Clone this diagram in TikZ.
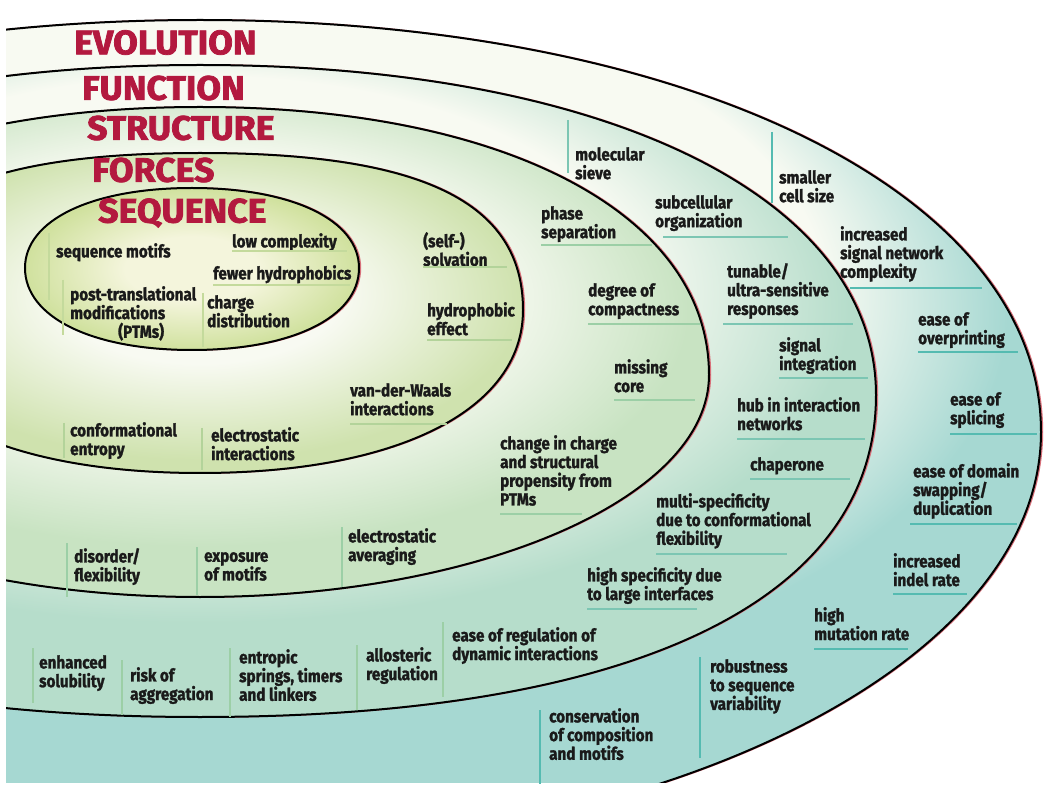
\documentclass[tikz,border=0pt]{standalone}
\usepackage{fontspec}
\newfontfamily\lblfont{Fira Sans}[FakeStretch=0.87,BoldFeatures={FakeBold=1.4}]
\newfontfamily\ttlfont{Fira Sans}[FakeStretch=1.05,BoldFeatures={FakeBold=2.2}]

\definecolor{paper}{HTML}{F8FAF2}
\definecolor{seqcore}{HTML}{F4F5DC}
\definecolor{evoedge}{HTML}{A6D8D2}
\definecolor{funedge}{HTML}{B6DDCB}
\definecolor{stredge}{HTML}{C8E3C2}
\definecolor{foredge}{HTML}{CFE2AE}
\definecolor{seqedge}{HTML}{D0E19E}
\definecolor{glowred}{HTML}{D8707A}
\definecolor{titlered}{HTML}{B3193F}
\definecolor{lbltext}{HTML}{1A1A1A}
\definecolor{evoline}{HTML}{55BBB1}
\definecolor{funline}{HTML}{7CC6B3}
\definecolor{strline}{HTML}{9CCFA6}
\definecolor{forline}{HTML}{B3D39A}
\definecolor{seqline}{HTML}{C4DA9C}

\pgfdeclareradialshading{evoshade}{\pgfpoint{0bp}{14bp}}{color(0bp)=(paper); color(18.5bp)=(paper); color(24bp)=(evoedge); color(50bp)=(evoedge)}
\pgfdeclareradialshading{funshade}{\pgfpoint{0bp}{12bp}}{color(0bp)=(paper); color(16bp)=(paper); color(24bp)=(funedge); color(50bp)=(funedge)}
\pgfdeclareradialshading{strshade}{\pgfpoint{0bp}{8bp}}{color(0bp)=(paper); color(14bp)=(paper); color(24bp)=(stredge); color(50bp)=(stredge)}
\pgfdeclareradialshading{forshade}{\pgfpoint{0bp}{4bp}}{color(0bp)=(paper); color(11bp)=(paper); color(25bp)=(foredge); color(50bp)=(foredge)}
\pgfdeclareradialshading{seqshade}{\pgfpoint{0bp}{0bp}}{color(0bp)=(seqcore); color(10bp)=(seqcore); color(25bp)=(seqedge); color(50bp)=(seqedge)}

% centre x, centre y, half width, upper and lower half height, upper and lower roundness
\newcommand\ringpath[7]{({#1-#3},{#2}) .. controls ({#1-#3},{#2-#6*#4}) and ({#1-#6*#3},{#2-#4}) .. ({#1},{#2-#4}) .. controls ({#1+#6*#3},{#2-#4}) and ({#1+#3},{#2-#6*#4}) .. ({#1+#3},{#2}) .. controls ({#1+#3},{#2+#7*#5}) and ({#1+#7*#3},{#2+#5}) .. ({#1},{#2+#5}) .. controls ({#1-#7*#3},{#2+#5}) and ({#1-#3},{#2+#7*#5}) .. cycle}

\tikzset{
  lbl/.style={anchor=north west, inner sep=0pt, align=left, text=lbltext, font=\lblfont\bfseries\fontsize{17.5}{18.7}\selectfont},
  ttl/.style={anchor=west, inner sep=0pt, text=titlered, font=\ttlfont\bfseries\fontsize{34}{36}\selectfont},
  ringline/.style={draw=black, line width=2pt},
  ringglow/.style={draw=glowred, line width=1.6pt},
  evorule/.style={draw=evoline, line width=1.8pt},
  funrule/.style={draw=funline, line width=1.6pt},
  strrule/.style={draw=strline, line width=1.5pt},
  forrule/.style={draw=forline, line width=1.4pt},
  seqrule/.style={draw=seqline, line width=1.3pt}
}

\begin{document}
\begin{tikzpicture}[x=1pt,y=-1pt]
\fill[white] (0,0) rectangle (1050,791);
\useasboundingbox (0,0) rectangle (1050,791);

\begin{scope}
\clip (6,0) rectangle (1050,782);
\draw[ringglow, xshift=1.4pt] \ringpath{200}{432}{841}{412}{420}{0.58}{0.5523};
\shade[shading=evoshade] \ringpath{200}{432}{841}{412}{420}{0.58}{0.5523};
\draw[ringline] \ringpath{200}{432}{841}{412}{420}{0.58}{0.5523};
\draw[ringglow, xshift=1.4pt] \ringpath{200}{395}{676}{330}{322}{0.6}{0.64};
\shade[shading=funshade] \ringpath{200}{395}{676}{330}{322}{0.6}{0.64};
\draw[ringline] \ringpath{200}{395}{676}{330}{322}{0.6}{0.64};
\draw[ringglow, xshift=1.4pt] \ringpath{200}{375}{509}{268}{222}{0.6}{0.5523};
\shade[shading=strshade] \ringpath{200}{375}{509}{268}{222}{0.6}{0.5523};
\draw[ringline] \ringpath{200}{375}{509}{268}{222}{0.6}{0.5523};
\draw[ringglow, xshift=1.4pt] \ringpath{200}{310}{323}{157}{163}{0.688}{0.613};
\shade[shading=forshade] \ringpath{200}{310}{323}{157}{163}{0.688}{0.613};
\draw[ringline] \ringpath{200}{310}{323}{157}{163}{0.688}{0.613};
\draw[ringglow, xshift=1.4pt] \ringpath{192}{268}{167}{80}{82}{0.6}{0.6};
\shade[shading=seqshade] \ringpath{192}{268}{167}{80}{82}{0.6}{0.6};
\draw[ringline] \ringpath{192}{268}{167}{80}{82}{0.6}{0.6};
\end{scope}

\node[ttl] (evotitle) at (74,42.5) {EVOLUTION};
\node[ttl] (funtitle) at (82,88) {FUNCTION};
\node[ttl] (strtitle) at (87,128) {STRUCTURE};
\node[ttl] (fortitle) at (92,170) {FORCES};
\node[ttl] (seqtitle) at (98,213) {SEQUENCE};

\node[lbl] (seqmotif) at (56,243) {sequence motifs};
\node[lbl] (lowcx) at (232,233) {low complexity};
\node[lbl] (fewhyd) at (213,265) {fewer hydrophobics};
\node[lbl] (ptm) at (70,286) {post-translational\\modifications\\\hspace*{48pt}(PTMs)};
\node[lbl] (chgdist) at (207,295) {charge\\distribution};

\node[lbl] (solv) at (423,232) {(self-)\\solvation};
\node[lbl] (hydeff) at (427,302) {hydrophobic\\effect};
\node[lbl] (vdw) at (350,383) {van-der-Waals\\interactions};
\node[lbl] (confent) at (70,422) {conformational\\entropy};
\node[lbl] (elint) at (211,427) {electrostatic\\interactions};

\node[lbl] (phase) at (541,206) {phase\\separation};
\node[lbl] (compact) at (588,283) {degree of\\compactness};
\node[lbl] (miss) at (614,359) {missing\\core};
\node[lbl] (chgprop) at (500,435) {change in charge\\and structural\\propensity from\\PTMs};
\node[lbl] (disflex) at (74,548) {disorder/\\flexibility};
\node[lbl] (expmot) at (204,552) {exposure\\of motifs};
\node[lbl] (elavg) at (348,528) {electrostatic\\averaging};

\node[lbl] (sieve) at (575,147) {molecular\\sieve};
\node[lbl] (subcell) at (655,195) {subcellular\\organization};
\node[lbl] (tunable) at (727,263) {tunable/\\ultra-sensitive\\responses};
\node[lbl] (sigint) at (779,337) {signal\\integration};
\node[lbl] (hub) at (737,397) {hub in interaction\\networks};
\node[lbl] (chap) at (750,457) {chaperone};
\node[lbl] (multispec) at (656,493) {multi-specificity\\due to conformational\\flexibility};
\node[lbl] (highspec) at (587,567) {high specificity due\\to large interfaces};
\node[lbl] (easereg) at (452,627) {ease of regulation of\\dynamic interactions};
\node[lbl] (solub) at (39,655) {enhanced\\solubility};
\node[lbl] (aggreg) at (130,667) {risk of\\aggregation};
\node[lbl] (springs) at (239,649) {entropic\\springs, timers\\and linkers};
\node[lbl] (allost) at (366,647) {allosteric\\regulation};

\node[lbl] (cellsize) at (779,170) {smaller\\cell size};
\node[lbl] (sigcomp) at (840,226) {increased\\signal network\\complexity};
\node[lbl] (overpr) at (918,312) {ease of\\overprinting};
\node[lbl] (splice) at (950,392) {ease of\\splicing};
\node[lbl] (domswap) at (913,463) {ease of domain\\swapping/\\duplication};
\node[lbl] (indel) at (893,553) {increased\\indel rate};
\node[lbl] (mutrate) at (814,607) {high\\mutation rate};
\node[lbl] (robust) at (710,659) {robustness\\to sequence\\variability};
\node[lbl] (conserv) at (549,708) {conservation\\of composition\\and motifs};

\draw[seqrule] ([xshift=-7pt,yshift=10pt]seqmotif.north west) -- ++(0,67);
\draw[seqrule] ([yshift=-18pt]lowcx.north west) -- ++(115,0);
\draw[seqrule] ([yshift=-20pt]fewhyd.north west) -- ++(137,0);
\draw[seqrule] ([xshift=-7pt,yshift=6pt]ptm.north west) -- ++(0,55);
\draw[seqrule] ([xshift=-4pt,yshift=2pt]chgdist.north west) -- ++(0,54);

\draw[forrule] ([yshift=-35pt]solv.north west) -- ++(84,0);
\draw[forrule] ([yshift=-38pt]hydeff.north west) -- ++(85,0);
\draw[forrule] ([yshift=-41pt]vdw.north west) -- ++(97,0);
\draw[forrule] ([xshift=-6pt,yshift=-1pt]confent.north west) -- ++(0,35);
\draw[forrule] ([xshift=-9pt,yshift=-1pt]elint.north west) -- ++(0,42);

\draw[strrule] ([yshift=-39pt]phase.north west) -- ++(111,0);
\draw[strrule] ([yshift=-41pt]compact.north west) -- ++(112,0);
\draw[strrule] ([yshift=-41pt]miss.north west) -- ++(81,0);
\draw[strrule] ([yshift=-79pt]chgprop.north west) -- ++(82,0);
\draw[strrule] ([xshift=-7pt,yshift=5pt]disflex.north west) -- ++(0,54);
\draw[strrule] ([xshift=-7pt,yshift=5pt]expmot.north west) -- ++(0,48);
\draw[strrule] ([xshift=-6pt,yshift=1pt]elavg.north west) -- ++(0,60);

\draw[funrule] ([xshift=-7pt,yshift=27pt]sieve.north west) -- ++(0,53);
\draw[funrule] ([xshift=8pt,yshift=-42pt]subcell.north west) -- ++(125,0);
\draw[funrule] ([xshift=-4pt,yshift=-61pt]tunable.north west) -- ++(130,0);
\draw[funrule] ([yshift=-41pt]sigint.north west) -- ++(89,0);
\draw[funrule] ([yshift=-42pt]hub.north west) -- ++(128,0);
\draw[funrule] ([yshift=-22pt]chap.north west) -- ++(100,0);
\draw[funrule] ([yshift=-61pt]multispec.north west) -- ++(131,0);
\draw[funrule] ([yshift=-42pt]highspec.north west) -- ++(110,0);
\draw[strrule] ([xshift=-9pt,yshift=5pt]easereg.north west) -- ++(0,75);
\draw[strrule] ([xshift=-6pt,yshift=7pt]solub.north west) -- ++(0,55);
\draw[strrule] ([xshift=-8pt,yshift=7pt]aggreg.north west) -- ++(0,55);
\draw[strrule] ([xshift=-9pt,yshift=1pt]springs.north west) -- ++(0,69);
\draw[strrule] ([xshift=-9pt,yshift=2pt]allost.north west) -- ++(0,65);

\draw[evorule] ([xshift=-7pt,yshift=38pt]cellsize.north west) -- ++(0,71);
\draw[evorule] ([xshift=10pt,yshift=-62pt]sigcomp.north west) -- ++(132,0);
\draw[evorule] ([yshift=-40pt]overpr.north west) -- ++(100,0);
\draw[evorule] ([yshift=-42pt]splice.north west) -- ++(87,0);
\draw[evorule] ([xshift=-3pt,yshift=-61pt]domswap.north west) -- ++(107,0);
\draw[evorule] ([yshift=-41pt]indel.north west) -- ++(74,0);
\draw[evorule] ([yshift=-42pt]mutrate.north west) -- ++(94,0);
\draw[evorule] ([xshift=-10pt,yshift=2pt]robust.north west) -- ++(0,101);
\draw[evorule] ([xshift=-9pt,yshift=-2pt]conserv.north west) -- ++(0,74);
\end{tikzpicture}
\end{document}
